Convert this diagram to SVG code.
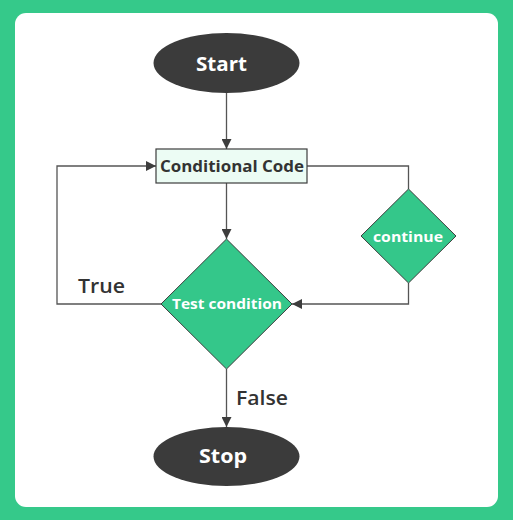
<svg xmlns="http://www.w3.org/2000/svg" width="513" height="520" viewBox="0 0 513 520">
<style>
.lbl{font-family:"Open Sans","Liberation Sans",sans-serif;font-weight:700;text-anchor:middle;dominant-baseline:central}
.w{fill:#ffffff}
.d{fill:#333333}
.edge{fill:none;stroke:#555555;stroke-width:1.3}
.term{fill:#3b3b3b}
.dia{fill:#34c78a;stroke:#3d3d3d;stroke-width:1}
</style>
<defs>
<marker id="ah" viewBox="0 0 10 10" refX="10" refY="5" markerWidth="10" markerHeight="10" markerUnits="userSpaceOnUse" orient="auto">
<path d="M0,0 L10,5 L0,10 Z" fill="#3d3d3d"/>
</marker>
</defs>
<rect x="0" y="0" width="513" height="520" fill="#35c98a"/>
<rect x="15" y="13" width="483" height="494" rx="11" fill="#ffffff"/>
<g id="connectors">
<line class="edge" x1="226.5" y1="93" x2="226.5" y2="149" marker-end="url(#ah)"/>
<line class="edge" x1="226.5" y1="183" x2="226.5" y2="239" marker-end="url(#ah)"/>
<polyline class="edge" points="161,304 57,304 57,166 156,166" marker-end="url(#ah)"/>
<polyline class="edge" points="307,166 408.5,166 408.5,189"/>
<polyline class="edge" points="408.5,283 408.5,304 292,304" marker-end="url(#ah)"/>
<line class="edge" x1="226.5" y1="369" x2="226.5" y2="427" marker-end="url(#ah)"/>
<text class="lbl d" x="101.5" y="285" style="font-weight:600" font-size="20" textLength="47" lengthAdjust="spacingAndGlyphs">True</text>
<text class="lbl d" x="262" y="397" style="font-weight:600" font-size="20" textLength="52" lengthAdjust="spacingAndGlyphs">False</text>
</g>
<g id="start">
<ellipse class="term" cx="226.5" cy="63" rx="73" ry="30"/>
<text class="lbl w" x="221.5" y="64" font-size="19" textLength="51" lengthAdjust="spacingAndGlyphs">Start</text>
</g>
<g id="code">
<rect x="156" y="149" width="151" height="34" fill="#ecfcf4" stroke="#3d3d3d" stroke-width="1.2"/>
<text class="lbl d" x="232" y="166" font-size="16" textLength="144" lengthAdjust="spacingAndGlyphs">Conditional Code</text>
</g>
<g id="test">
<polygon class="dia" points="226.5,239 292,304 226.5,369 161,304"/>
<text class="lbl w" x="227" y="303" font-size="15" textLength="110" lengthAdjust="spacingAndGlyphs">Test condition</text>
</g>
<g id="continue">
<polygon class="dia" points="408.5,189 456,236 408.5,283 361,236"/>
<text class="lbl w" x="408" y="236" font-size="15" textLength="70" lengthAdjust="spacingAndGlyphs">continue</text>
</g>
<g id="stop">
<ellipse class="term" cx="226.5" cy="456.5" rx="73" ry="29.5"/>
<text class="lbl w" x="223" y="456" font-size="19" textLength="48" lengthAdjust="spacingAndGlyphs">Stop</text>
</g>
</svg>
